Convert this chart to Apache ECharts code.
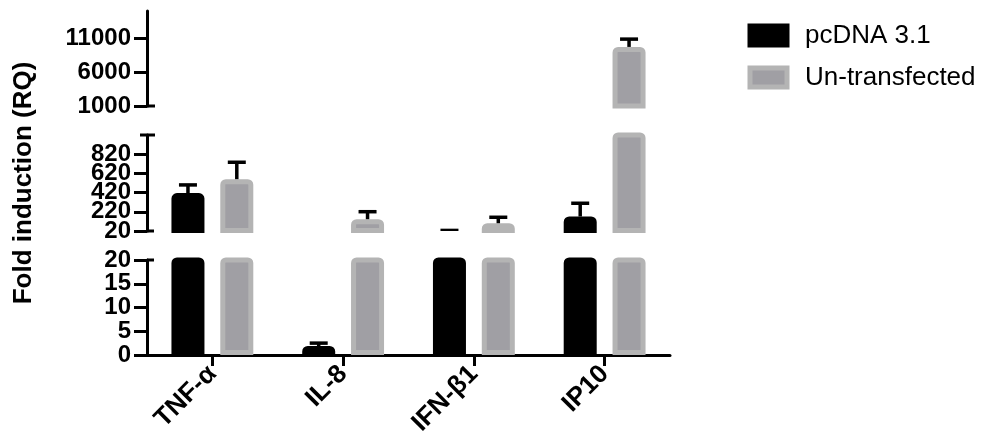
<!DOCTYPE html>
<html>
<head>
<meta charset="utf-8">
<script src="https://cdn.jsdelivr.net/npm/echarts@6/dist/echarts.min.js"></script>
<style>
html,body{margin:0;padding:0;background:#fff;}
#chart{width:995px;height:447px;}
</style>
</head>
<body>
<div id="chart"></div>
<script>
// ---- data ----
const categories = ['TNF-α', 'IL-8', 'IFN-β1', 'IP10'];
const seriesNames = ['pcDNA 3.1', 'Un-transfected'];
const pcdnaMean = [415, 1.9, 22, 171];
const pcdnaErr = [85, 0.6, 4, 138];
const untransMean = [560, 143, 101, 9706];
const untransErr = [176, 78, 62, 1150];
const topTicks = [1000, 6000, 11000];
const midTicks = [20, 220, 420, 620, 820];
const lowTicks = [0, 5, 10, 15, 20];
const segMin = [1000, 20, 0];
const segMax = [15000, 1020, 20];
const yTitle = 'Fold induction (RQ)';

// ---- style ----
const FONT = '"Liberation Sans", Arial, Helvetica, sans-serif';
const GRID_LEFT = 147, GRID_W = 523;
const grids = [
  { left: GRID_LEFT, width: GRID_W, top: 11, height: 95 },
  { left: GRID_LEFT, width: GRID_W, top: 135, height: 96 },
  { left: GRID_LEFT, width: GRID_W, top: 260, height: 95 }
];
const BAR_W = 33, BAR_GAP = 0.48, BORDER = 5;
const OFFSET = (BAR_W + BAR_W * BAR_GAP) / 2;
const BLACK = '#000000', GRAY_FILL = '#a09fa4', GRAY_EDGE = '#b4b4b4';

const tickLists = [topTicks, midTicks, lowTicks];

const xAxes = grids.map((g, i) => ({
  type: 'category', gridIndex: i, data: categories, show: i === 2,
  boundaryGap: true,
  axisLine: { show: true, lineStyle: { color: BLACK, width: 3 } },
  axisTick: { show: true, alignWithLabel: true, length: 11, lineStyle: { color: BLACK, width: 3 } },
  axisLabel: { rotate: 45, margin: 15, color: BLACK, fontSize: 26, fontWeight: 'bold', fontFamily: FONT, interval: 0 },
  splitLine: { show: false }
}));

// tick labels are split over two coincident axes per segment (even / odd ticks)
// so that the closely spaced labels are not thinned out by overlap handling
function makeYAxis(i, values, main) {
  const ax = {
    type: 'value', gridIndex: i, min: segMin[i], max: segMax[i], position: 'left', offset: 0,
    axisLine: { show: main, onZero: false, lineStyle: { color: BLACK, width: 3 } },
    axisTick: { show: true, length: 13, lineStyle: { color: BLACK, width: 3 }, customValues: values },
    axisLabel: {
      margin: 16, color: BLACK, fontSize: 24, fontWeight: 'bold', fontFamily: FONT,
      customValues: values, showMinLabel: true, showMaxLabel: true,
      formatter: v => String(v)
    },
    splitLine: { show: false }
  };
  if (main && i === 1) {
    ax.name = yTitle;
    ax.nameLocation = 'middle';
    ax.nameGap = 110;
    ax.nameTextStyle = { color: BLACK, fontSize: 26, fontWeight: 'bold', fontFamily: FONT };
  }
  return ax;
}
const yAxes = [];
grids.forEach((g, i) => yAxes.push(makeYAxis(i, tickLists[i].filter((v, k) => k % 2 === 0), true)));
grids.forEach((g, i) => yAxes.push(makeYAxis(i, tickLists[i].filter((v, k) => k % 2 === 1), false)));

function segData(arr, i) {
  return arr.map(v => (v > segMin[i] ? v : null));
}

function errRender(sign, seg) {
  return function (params, api) {
    const idx = api.value(0), m = api.value(1), e = api.value(2);
    if (m + e <= segMin[seg] || m >= segMax[seg]) return null;
    const lo = Math.max(m, segMin[seg]);
    const p0 = api.coord([idx, lo]);
    const p1 = api.coord([idx, m + e]);
    const x = p0[0] + sign * OFFSET;
    return {
      type: 'group',
      children: [
        { type: 'line', shape: { x1: x, y1: p0[1], x2: x, y2: p1[1] }, style: { stroke: BLACK, lineWidth: 3.5 } },
        { type: 'line', shape: { x1: x - 9, y1: p1[1], x2: x + 9, y2: p1[1] }, style: { stroke: BLACK, lineWidth: 3.5 } }
      ]
    };
  };
}

const series = [];
grids.forEach((g, i) => {
  series.push({
    name: seriesNames[0], type: 'bar', xAxisIndex: i, yAxisIndex: i,
    data: segData(pcdnaMean, i), barWidth: BAR_W, barGap: (BAR_GAP * 100) + '%',
    clip: true, z: 2,
    itemStyle: { color: BLACK, borderColor: BLACK, borderWidth: BORDER, borderRadius: [3, 3, 0, 0] },
    emphasis: { disabled: true }
  });
  series.push({
    name: seriesNames[1], type: 'bar', xAxisIndex: i, yAxisIndex: i,
    data: segData(untransMean, i), barWidth: BAR_W, barGap: (BAR_GAP * 100) + '%',
    clip: true, z: 2,
    itemStyle: { color: GRAY_FILL, borderColor: GRAY_EDGE, borderWidth: BORDER, borderRadius: [3, 3, 0, 0] },
    emphasis: { disabled: true }
  });
  series.push({
    name: 'err-pcdna-' + i, type: 'custom', xAxisIndex: i, yAxisIndex: i, clip: true, z: 5,
    renderItem: errRender(-1, i), encode: { x: 0, y: 1 },
    data: pcdnaMean.map((v, k) => [k, v, pcdnaErr[k]]), silent: true
  });
  series.push({
    name: 'err-untrans-' + i, type: 'custom', xAxisIndex: i, yAxisIndex: i, clip: true, z: 5,
    renderItem: errRender(1, i), encode: { x: 0, y: 1 },
    data: untransMean.map((v, k) => [k, v, untransErr[k]]), silent: true
  });
});

const chart = echarts.init(document.getElementById('chart'), null, { renderer: 'canvas' });
chart.setOption({
  animation: false,
  backgroundColor: '#ffffff',
  grid: grids.map(g => Object.assign({ containLabel: false, outerBoundsMode: 'none' }, g)),
  xAxis: xAxes,
  yAxis: yAxes,
  legend: {
    data: seriesNames, orient: 'vertical', left: 747.5, top: 22.5, padding: 0,
    icon: 'rect', itemWidth: 37, itemHeight: 19, itemGap: 16,
    itemStyle: { borderWidth: BORDER },
    textStyle: { color: BLACK, fontSize: 26, fontFamily: FONT, lineHeight: 19, padding: [0, 0, 0, 13] },
    selectedMode: false
  },
  series: series
});

// segment end caps of the broken axis, positioned through the axis scales
function capY(axisIdx, v) { return chart.convertToPixel({ yAxisIndex: axisIdx }, v); }
const capStyle = { stroke: BLACK, lineWidth: 3 };
const caps = [
  [capY(0, segMin[0]), 0, 8],
  [capY(1, segMax[1]), -7, 8],
  [capY(1, segMin[1]), 0, 7],
  [capY(2, segMax[2]), 0, 7]
];
chart.setOption({
  graphic: caps.map(c => ({
    type: 'line', silent: true,
    shape: { x1: GRID_LEFT + c[1], y1: c[0], x2: GRID_LEFT + c[2], y2: c[0] },
    style: capStyle
  }))
});
</script>
</body>
</html>
